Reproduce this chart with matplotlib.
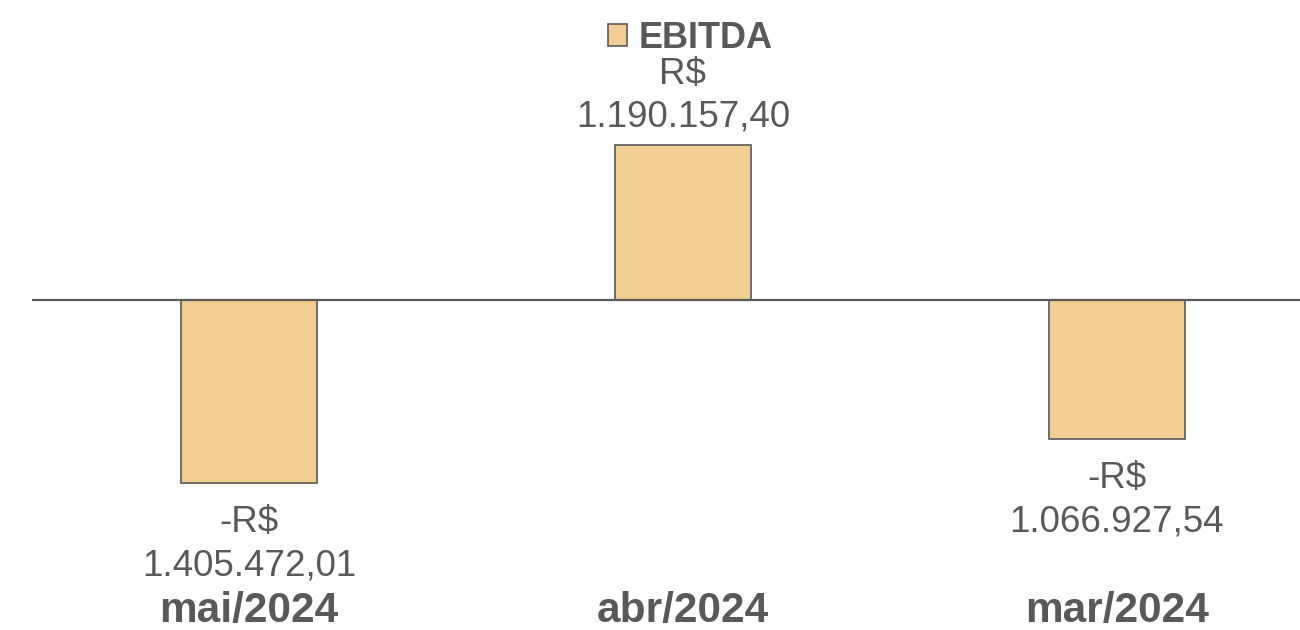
import matplotlib.pyplot as plt
import matplotlib.transforms as mtransforms
import numpy as np

months = ['mai/2024', 'abr/2024', 'mar/2024']
ebitda = [-1405472.01, 1190157.40, -1066927.54]
value_labels = ['-R$\n1.405.472,01', 'R$\n1.190.157,40', '-R$\n1.066.927,54']

bar_color = '#F2CE92'
grey = '#595959'

plt.rcParams['font.family'] = ['Liberation Sans', 'DejaVu Sans']

fig = plt.figure(figsize=(13, 6.3), dpi=100)
ax = fig.add_axes([32 / 1300, 0, 1 - 32 / 1300, 1])

x = np.arange(len(months))
bars = ax.bar(x, ebitda, width=0.313, color=bar_color, edgecolor=grey,
              linewidth=1.2, label='EBITDA', zorder=2)
ax.axhline(0, color=grey, linewidth=1.6, zorder=3)

ax.set_xlim(-0.5, 2.4217)
ax.set_ylim(-330 / 130 * 1e6, 300 / 130 * 1e6)

for xi, v, lab in zip(x, ebitda, value_labels):
    if v >= 0:
        ax.annotate(lab, (xi, v), xytext=(0, 7.5), textcoords='offset points',
                    ha='center', va='bottom', fontsize=26.5, color=grey,
                    linespacing=1.3)
    else:
        ax.annotate(lab, (xi, v), xytext=(0, -16), textcoords='offset points',
                    ha='center', va='top', fontsize=26.5, color=grey,
                    linespacing=1.3)

trans = mtransforms.blended_transform_factory(ax.transData, ax.transAxes)
for xi, m in zip(x, months):
    ax.text(xi, 1 - 611 / 630, m, transform=trans, ha='center', va='center',
            fontsize=30.5, fontweight='bold', color=grey)

ax.legend(loc='center', bbox_to_anchor=(690 / 1300, 1 - 38 / 630),
          bbox_transform=fig.transFigure, frameon=False,
          prop={'size': 26, 'weight': 'bold'}, labelcolor=grey,
          handlelength=0.55, handleheight=0.55, handletextpad=0.3)

ax.axis('off')

fig.savefig('out.png', dpi=100)
